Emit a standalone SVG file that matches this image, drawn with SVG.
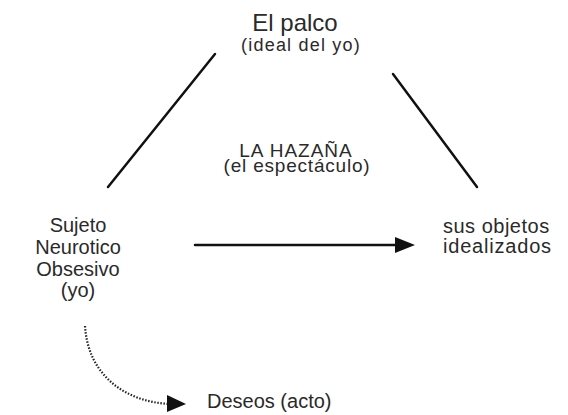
<svg xmlns="http://www.w3.org/2000/svg" width="568" height="415" viewBox="0 0 568 415">
<style>
text{font-family:"Liberation Sans",Arial,sans-serif;fill:#2a2a2a}
.c{text-anchor:middle}
.ln{stroke:#111;stroke-width:2.5;fill:none;stroke-linecap:round}
.dot{stroke:#222;stroke-width:2.2;fill:none;stroke-dasharray:1.5 1.6}
.head{fill:#111}
</style>
<rect width="568" height="415" fill="#fff"/>
<g id="palco">
<text class="c" x="295" y="31" font-size="24">El palco</text>
<text class="c" x="301" y="51" font-size="18" letter-spacing="1.2">(ideal del yo)</text>
</g>
<g id="hazana">
<text class="c" x="296" y="157" font-size="19" letter-spacing="1">LA HAZAÑA</text>
<text class="c" x="297" y="172" font-size="19" letter-spacing="0.8">(el espectáculo)</text>
</g>
<g id="sujeto">
<text class="c" x="78" y="232" font-size="20">Sujeto</text>
<text class="c" x="78" y="254" font-size="20">Neurotico</text>
<text class="c" x="78" y="276" font-size="20">Obsesivo</text>
<text class="c" x="78" y="297" font-size="20">(yo)</text>
</g>
<g id="objetos">
<text x="443" y="233" font-size="20" letter-spacing="0.5">sus objetos</text>
<text x="443" y="253" font-size="20" letter-spacing="0.8">idealizados</text>
</g>
<g id="deseos">
<text x="207" y="408" font-size="20">Deseos (acto)</text>
</g>
<g id="connectors">
<line class="ln" x1="215" y1="54" x2="108" y2="187"/>
<line class="ln" x1="393" y1="74" x2="477" y2="187"/>
<line class="ln" x1="195" y1="245" x2="398" y2="245"/>
<polygon class="head" points="395,237 415,245 395,253"/>
<path class="dot" d="M85 326 C88 375 125 402 170 404"/>
<polygon class="head" points="167,395 186,404 167,412"/>
</g>
</svg>
